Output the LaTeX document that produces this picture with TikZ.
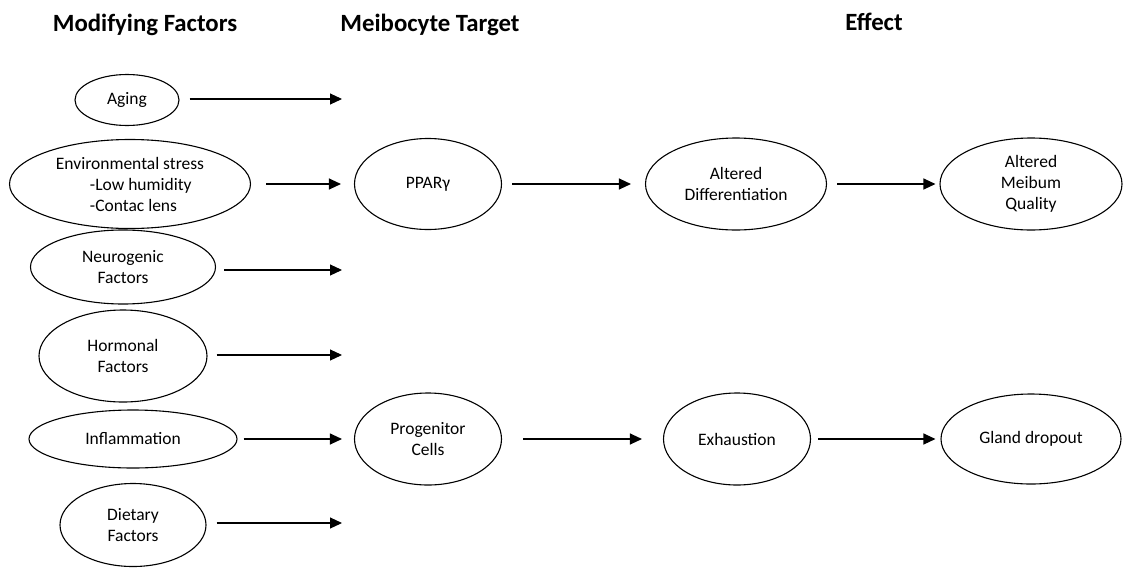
\documentclass[tikz,border=0pt]{standalone}
\usepackage{fontspec}
\setmainfont{Carlito}
\usetikzlibrary{shapes.geometric,arrows.meta}

\tikzset{
  factor/.style={draw, ellipse, line width=1.1pt, inner sep=0pt, align=center,
    font=\fontsize{17.5}{21}\selectfont},
  flow/.style={line width=1.1pt, -{Triangle[length=12pt,width=11pt]}},
  heading/.style={anchor=base, font=\fontsize{24.8}{28}\selectfont\bfseries}
}

\begin{document}
\begin{tikzpicture}[x=1pt,y=-1pt]
  \useasboundingbox (0,0) rectangle (1123,570);

  \node [heading] (t-mod) at (145,31) {Modifying Factors};
  \node [heading] (t-target) at (430,31) {Meibocyte Target};
  \node [heading] (t-effect) at (874,30) {Effect};

  % modifying factors
  \node [factor, minimum width=104pt, minimum height=51pt] (aging) at (127,100) {Aging};
  \node [factor, minimum width=241pt, minimum height=89pt] (env) at (130,184)
    {Environmental stress\\\hspace*{34pt}-Low humidity\hfill\null\\\hspace*{34pt}-Contac lens\hfill\null};
  \node [factor, minimum width=185pt, minimum height=74pt] (neuro) at (123,267) {Neurogenic\\Factors};
  \node [factor, minimum width=168pt, minimum height=92pt] (horm) at (123,356) {Hormonal\\Factors};
  \node [factor, minimum width=208pt, minimum height=58pt] (infl) at (133,439) {Inflammation};
  \node [factor, minimum width=146pt, minimum height=83pt] (diet) at (133,525) {Dietary\\Factors};

  % targets and effects
  \node [factor, minimum width=147pt, minimum height=91pt] (ppar) at (428,184) {PPARγ};
  \node [factor, minimum width=147pt, minimum height=92pt] (prog) at (428,439) {Progenitor\\Cells};
  \node [factor, minimum width=181pt, minimum height=92pt] (diff) at (736,184) {Altered\\Differentiation};
  \node [factor, minimum width=182pt, minimum height=92pt] (meib) at (1031,184) {Altered\\Meibum\\Quality};
  \node [factor, minimum width=147pt, minimum height=92pt] (exh) at (737,439) {Exhaustion};
  \node [factor, minimum width=180pt, minimum height=90pt] (gland) at (1031,439) {Gland dropout};

  \foreach \n/\y in {aging/99, neuro/270, horm/355, diet/523}
    \coordinate (\n-end) at (342,\y);
  \foreach \n/\gap in {aging/10, neuro/8, horm/9, diet/10}
    \draw [flow] ([xshift=\gap pt]\n-end -| \n.east) -- (\n-end);

  \draw [flow, shorten <=15pt, shorten >=13pt] (env) -- (ppar);
  \draw [flow, shorten <=6pt, shorten >=12pt] (infl) -- (prog);
  \draw [flow, shorten <=10pt, shorten >=14pt] (ppar) -- (diff);
  \draw [flow, shorten <=10pt, shorten >=4pt] (diff) -- (meib);
  \draw [flow, shorten <=21pt, shorten >=21pt] (prog) -- (exh);
  \draw [flow, shorten <=7pt, shorten >=5pt] (exh) -- (gland);

\end{tikzpicture}
\end{document}
